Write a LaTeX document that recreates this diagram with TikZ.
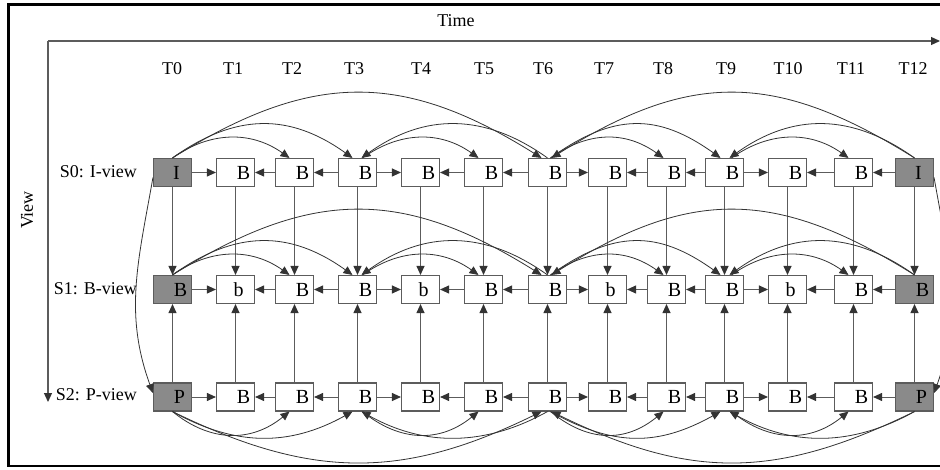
\documentclass[tikz,border=0pt]{standalone}
\usepackage{fontspec}
\setmainfont{Liberation Serif}
\usetikzlibrary{arrows.meta}
\definecolor{keyc}{HTML}{8A8A8A}
\definecolor{linec}{HTML}{5C5C5C}
\definecolor{tipc}{HTML}{333333}
\definecolor{arcc}{HTML}{333333}
\definecolor{boxc}{HTML}{5C5C5C}
\begin{document}
\begin{tikzpicture}[x=1pt,y=1pt,
  fr/.style={draw=boxc, line width=1.1pt, minimum width=38pt, minimum height=28pt, inner sep=0pt, fill=white},
  lb/.style={font=\fontsize{18}{20}\selectfont, inner sep=0pt, text=black},
  bl/.style={font=\fontsize{20}{22}\selectfont, inner sep=0pt, text=black},
  tip/.style={-{Triangle[length=9pt,width=8pt,color=tipc]}},
  link/.style={draw=linec, line width=1pt, tip},
  arcl/.style={draw=arcc, line width=0.8pt, tip},
  axis/.style={draw=linec, line width=1.2pt, tip},
]
\useasboundingbox (0,0) rectangle (940,469);
\begin{scope}
\clip (0,0) rectangle (940,469);
% outer frame
\draw[line width=2.6pt] (8.5,464.5) rectangle (960,3);
% axes
\coordinate (o) at (48,428);
\coordinate (tend) at (940,428);
\coordinate (vend) at (48,67);
\draw[axis] (o) -- (tend);
\draw[axis] (o) -- (vend);
\node[lb, anchor=base] (time) at (456,442) {Time};
\node[lb, rotate=90] (view) at (27,259) {View};
% time labels
\foreach \i/\x in {0/172,1/233,2/292,3/354,4/421,5/484,6/543,7/604,8/663,9/726,10/788,11/851,12/913}
  \node[lb, anchor=base] (tl\i) at (\x,394) {T\i};
% row labels
\node[lb, anchor=base east] (s0) at (137,291) {S0: I-view};
\node[lb, anchor=base east] (s1) at (137,174) {S1: B-view};
\node[lb, anchor=base east] (s2) at (137,69) {S2: P-view};
% boxes row S0
\foreach \i/\x/\t/\s/\f in {0/172.5/I/4/keyc,1/235.5/B/8/white,2/294.5/B/8/white,3/357.5/B/8/white,4/420.5/B/8/white,5/483.5/B/8/white,6/547.5/B/8/white,7/607.5/B/8/white,8/666.5/B/8/white,9/724.5/B/8/white,10/787.5/B/8/white,11/853.5/B/8/white,12/914.5/I/4/keyc}
  \node[fr, fill=\f, label={[bl,xshift=\s pt]center:\t}] (a\i) at (\x,296.5) {};
% boxes row S1
\foreach \i/\x/\t/\s/\f in {0/172.5/B/8/keyc,1/235.5/b/3/white,2/294.5/B/8/white,3/357.5/B/8/white,4/420.5/b/3/white,5/483.5/B/8/white,6/547.5/B/8/white,7/607.5/b/3/white,8/666.5/B/8/white,9/724.5/B/8/white,10/787.5/b/3/white,11/853.5/B/8/white,12/914.5/B/8/keyc}
  \node[fr, fill=\f, label={[bl,xshift=\s pt]center:\t}] (b\i) at (\x,179.5) {};
% boxes row S2
\foreach \i/\x/\t/\s/\f in {0/172.5/P/7/keyc,1/235.5/B/8/white,2/294.5/B/8/white,3/357.5/B/8/white,4/420.5/B/8/white,5/483.5/B/8/white,6/547.5/B/8/white,7/607.5/B/8/white,8/666.5/B/8/white,9/724.5/B/8/white,10/787.5/B/8/white,11/853.5/B/8/white,12/914.5/P/7/keyc}
  \node[fr, fill=\f, label={[bl,xshift=\s pt]center:\t}] (c\i) at (\x,72) {};
% horizontal links
\foreach \r in {a,b,c}
  \foreach \u/\v in {0/1,2/1,3/2,3/4,5/4,6/5,6/7,8/7,9/8,9/10,11/10,12/11}
    \draw[link] (\r\u) -- (\r\v);
% vertical links
\foreach \i in {0,...,12}{
  \draw[link] (a\i) -- (b\i);
  \draw[link] (c\i) -- (b\i);
}
% arcs above S0 and S1
\foreach \r in {a,b}
  \foreach \s/\so/\t/\to/\ax/\bx/\h in {0/0/2/-5/38/-38/27, 0/0/3/-5/63/-63/45, 0/0/6/-6/139/-139/87, 6/0/3/4/-63/63/45, 3/5/5/-5/38/-38/27, 12/0/6/4/-139/139/87, 6/3/9/-4/63/-63/45, 6/3/8/-3/38/-38/27, 12/0/9/5/-63/63/45, 9/7/11/-5/38/-38/27}
    \draw[arcl] ([xshift=\so pt]\r\s.north) .. controls +(\ax,\h) and +(\bx,\h) .. ([xshift=\to pt]\r\t.north);
% arcs below S2
\foreach \s/\so/\t/\to/\ax/\bx/\h in {0/0/2/-5/38/-38/-31, 0/0/3/-5/63/-63/-35, 0/0/6/-6/139/-139/-68, 6/0/3/4/-63/63/-35, 3/5/5/-5/38/-38/-31, 12/0/6/4/-139/139/-68, 6/3/9/-4/63/-63/-35, 6/3/8/-3/38/-38/-31, 12/0/9/5/-63/63/-35, 9/7/11/-5/38/-38/-31}
  \draw[arcl] ([xshift=\so pt]c\s.south) .. controls +(\ax,\h) and +(\bx,\h) .. ([xshift=\to pt]c\t.south);
% inter-view I -> P
\draw[arcl] ([yshift=-5pt]a0.west) .. controls +(-100:85) and +(110:85) .. ([yshift=4pt]c0.west);
\draw[arcl] ([yshift=-5pt]a12.east) .. controls +(-80:85) and +(70:85) .. ([yshift=4pt]c12.east);
\end{scope}
\end{tikzpicture}
\end{document}
